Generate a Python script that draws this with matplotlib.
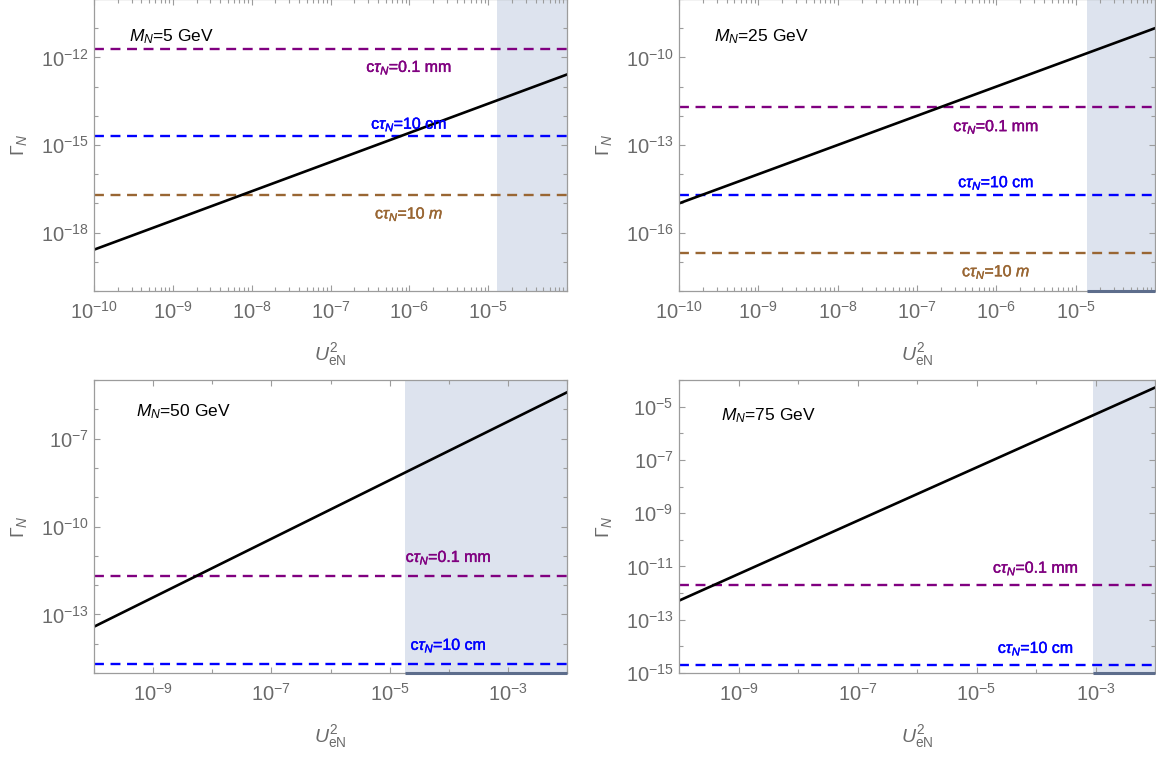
import numpy as np
import matplotlib.pyplot as plt
import matplotlib.patheffects as pe
from matplotlib.ticker import FixedLocator, FixedFormatter, NullFormatter

plt.rcParams['font.family'] = ['Liberation Sans', 'DejaVu Sans']
plt.rcParams['mathtext.fontset'] = 'custom'
plt.rcParams['mathtext.rm'] = 'Liberation Sans'
plt.rcParams['mathtext.it'] = 'Liberation Sans:italic'
plt.rcParams['mathtext.bf'] = 'Liberation Sans:bold'

# heavy neutrino masses (GeV), one panel each
masses = [5, 25, 50, 75]

u2_top = [1e-10, 1e-4]
u2_bot = [1e-10, 1e-2]
gamma_5 = [2.6e-19, 2.6e-13]
gamma_25 = [1.0e-15, 1.0e-9]
gamma_50 = [3.8e-14, 3.8e-6]
gamma_75 = [5.2e-13, 5.2e-5]

# widths for fixed decay lengths c*tau_N
gamma_01mm = 1.97e-12
gamma_10cm = 1.97e-15
gamma_10m = 1.97e-17

# excluded mixing (shaded) starts here
excluded_u2 = [1.3e-5, 1.4e-5, 1.85e-5, 9e-4]

# axis ranges
xlims = [(1e-10, 1e-4), (1e-10, 1e-4), (1e-10, 1e-2), (1e-10, 1e-2)]
ylims = [(1e-20, 1e-10), (1e-18, 1e-8), (1e-15, 1e-5), (1e-15, 1e-4)]

# labelled tick exponents
xlab_top = [-10, -9, -8, -7, -6, -5]
xlab_bot = [-9, -7, -5, -3]
ylab_5 = [-18, -15, -12]
ylab_25 = [-16, -13, -10]
ylab_50 = [-13, -10, -7]
ylab_75 = [-15, -13, -11, -9, -7, -5]

GRAY = '#9c9c9c'
TXT = '#6a6a6a'
SHADE = '#dde3ee'
PURPLE = '#800080'
BLUE = '#0000ff'
BROWN = '#996633'


def decade_ticks(lo, hi, labelled, sub=False):
    exps = range(int(round(np.log10(lo))), int(round(np.log10(hi))) + 1)
    major = [10.0**e for e in labelled]
    minor = [10.0**e for e in exps if e not in labelled]
    if sub:
        for e in exps:
            minor += [k * 10.0**e for k in range(2, 10) if k * 10.0**e < hi]
    labels = [r'$10^{%d}$' % e for e in labelled]
    return major, minor, labels


fig = plt.figure(figsize=(11.56, 7.57), dpi=100)
W, H = 1156.0, 757.0
# axes boxes in pixels: left, top, right, bottom
boxes = [(94, -1, 567, 291), (679, -1, 1155, 291),
         (94, 380, 567, 673), (679, 380, 1155, 673)]

curves = [(u2_top, gamma_5), (u2_top, gamma_25), (u2_bot, gamma_50), (u2_bot, gamma_75)]
ylabs = [ylab_5, ylab_25, ylab_50, ylab_75]
xlabs = [xlab_top, xlab_top, xlab_bot, xlab_bot]

# text placement (data coords)
mass_pos = [(2.8e-10, 5.2e-12), (2.8e-10, 5.2e-10), (5.2e-10, 8.5e-7), (5.0e-10, 4.6e-6)]
label_x = [1e-6, 1e-6, 1e-4, 1e-4]
purple_y = [4.6e-13, 4.3e-13, 8.9e-12, 8.7e-12]
blue_y = [5.2e-15, 5.2e-15, 8.9e-15, 8.5e-15]
brown_y = [4.4e-18, 4.6e-18, None, None]
dark_edge = [False, True, True, True]

for i, (l, t, r, b) in enumerate(boxes):
    ax = fig.add_axes([l / W, 1 - b / H, (r - l) / W, (b - t) / H])
    ax.set_xscale('log')
    ax.set_yscale('log')
    ax.set_xlim(*xlims[i])
    ax.set_ylim(*ylims[i])

    ax.axvspan(excluded_u2[i], xlims[i][1], color=SHADE, lw=0, zorder=0)
    if dark_edge[i]:
        ax.plot([excluded_u2[i], xlims[i][1]], [ylims[i][0]] * 2, color='#5d6d8c',
                lw=2.2, solid_capstyle='butt', clip_on=False, zorder=5)

    ax.axhline(gamma_01mm, color=PURPLE, lw=1.7, dashes=(4.2, 2.8))
    ax.axhline(gamma_10cm, color=BLUE, lw=1.7, dashes=(4.2, 2.8))
    if i < 2:
        ax.axhline(gamma_10m, color=BROWN, lw=1.7, dashes=(4.2, 2.8))

    x, y = curves[i]
    ax.plot(x, y, color='black', lw=1.9)

    # texts
    mx, my = mass_pos[i]
    ax.text(mx, my, r'$M_N$=%d GeV' % masses[i], fontsize=12.5, color='black',
            va='center', ha='left')
    lab_kw = dict(fontsize=11.5, ha='center', va='center')
    ax.text(label_x[i], purple_y[i], r'c$\tau_N$=0.1 mm', color=PURPLE,
            path_effects=[pe.withStroke(linewidth=0.3, foreground=PURPLE)], **lab_kw)
    ax.text(label_x[i], blue_y[i], r'c$\tau_N$=10 cm', color=BLUE,
            path_effects=[pe.withStroke(linewidth=0.3, foreground=BLUE)], **lab_kw)
    if brown_y[i] is not None:
        ax.text(label_x[i], brown_y[i], r'c$\tau_N$=10 $m$', color=BROWN,
                path_effects=[pe.withStroke(linewidth=0.3, foreground=BROWN)], **lab_kw)

    # ticks
    xmaj, xmin, xtl = decade_ticks(xlims[i][0], xlims[i][1], xlabs[i], sub=(i < 2))
    ymaj, ymin, ytl = decade_ticks(ylims[i][0], ylims[i][1], ylabs[i])
    ax.xaxis.set_major_locator(FixedLocator(xmaj))
    ax.xaxis.set_major_formatter(FixedFormatter(xtl))
    ax.xaxis.set_minor_locator(FixedLocator(xmin))
    ax.xaxis.set_minor_formatter(NullFormatter())
    ax.yaxis.set_major_locator(FixedLocator(ymaj))
    ax.yaxis.set_major_formatter(FixedFormatter(ytl))
    ax.yaxis.set_minor_locator(FixedLocator(ymin))
    ax.yaxis.set_minor_formatter(NullFormatter())
    ax.tick_params(which='both', direction='in', top=True, right=True,
                   color=GRAY, width=0.8, labelcolor=TXT, labelsize=14.5)
    ax.tick_params(which='major', length=4.0)
    ax.tick_params(which='minor', length=2.6)
    ax.tick_params(axis='x', which='major', pad=7)
    ax.tick_params(axis='y', which='major', pad=4)
    for s in ax.spines.values():
        s.set_color(GRAY)
        s.set_linewidth(0.9)

    ax.set_xlabel(r'$U^2_{\mathrm{eN}}$', fontsize=14, color=TXT, labelpad=13)
    ax.set_ylabel(r'$\Gamma_N$', fontsize=14, color=TXT, labelpad=8)

fig.savefig('out.png', dpi=100)
